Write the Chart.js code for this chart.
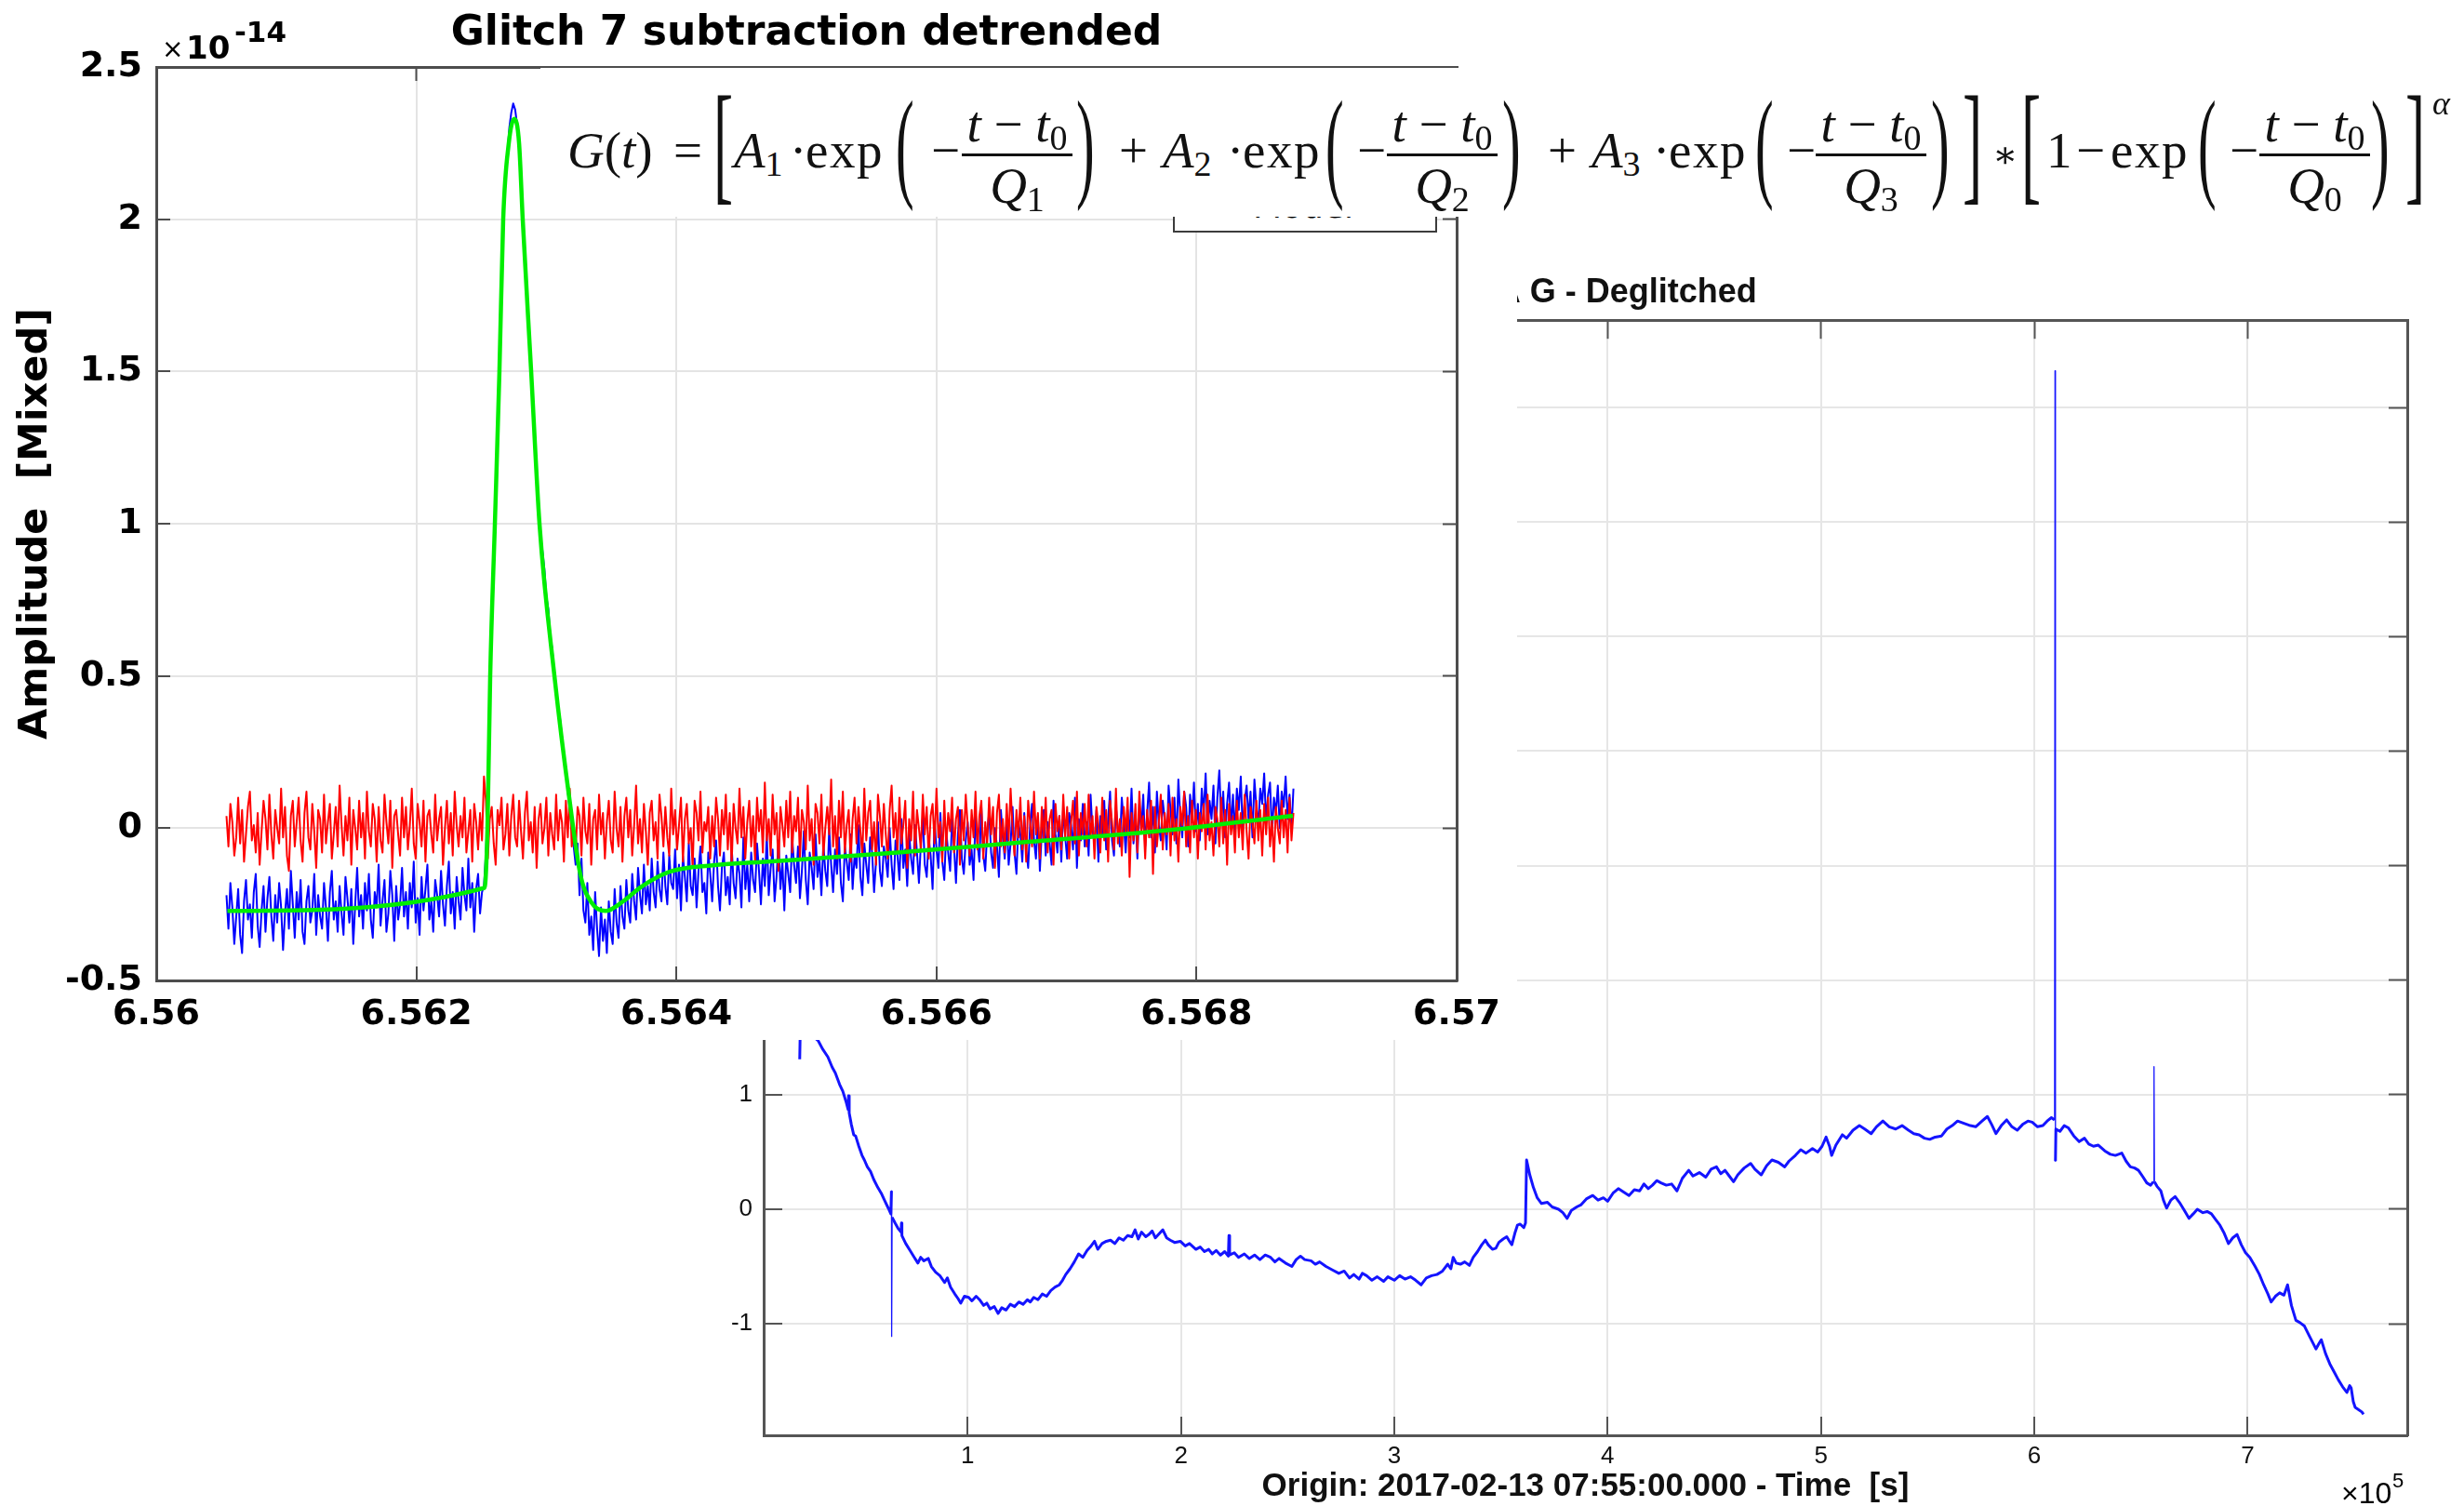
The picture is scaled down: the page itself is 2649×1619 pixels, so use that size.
<!DOCTYPE html>
<html lang="en">
<head>
<meta charset="utf-8">
<title>Glitch 7 subtraction detrended</title>
<script src="https://cdn.jsdelivr.net/npm/chart.js@4.4.1/dist/chart.umd.min.js"></script>
<style>
html, body { margin: 0; padding: 0; background: #fff; }
body { position: relative; width: 2649px; height: 1619px; overflow: hidden; }
canvas { display: block; }
#back { position: absolute; left: 760px; top: 250px; }
#frontBox { position: absolute; left: 0; top: 0; width: 1631px; height: 1118px; background: #fff; z-index: 2; }
#legend { position: absolute; left: 1261px; top: 100px; width: 284px; height: 150px; box-sizing: border-box; border: 2px solid #3c3c3c; background: #fff; z-index: 3; }
#legend span { position: absolute; left: 84px; top: 102px; font: 36px/1 "DejaVu Sans", sans-serif; color: #000; }
#eq { position: absolute; left: 581px; top: 73px; width: 2068px; height: 160px; background: #fff; z-index: 4; font-family: "Liberation Serif", serif; color: #111; }
#eq .a { position: absolute; line-height: 1; white-space: nowrap; }
#eq .m { font-size: 55px; top: 61px; }
#eq .x { letter-spacing: 1.5px; }
#eq .fr { top: 0; height: 160px; }
#eq .nu { left: 0; width: 100%; text-align: center; font-size: 55px; top: 33px; }
#eq .de { left: 0; width: 100%; text-align: center; font-size: 55px; top: 99px; }
#eq .bar { left: 0; width: 100%; top: 92px; height: 3px; background: #111; }
#eq .pa { font-size: 131px; top: 16px; transform: scaleX(0.45); transform-origin: 0 0; }
#eq .br { font-size: 141px; top: 10px; transform: scaleX(0.45); transform-origin: 0 0; }
#eq .ast { font-family: "DejaVu Serif", serif; font-size: 40px; top: 73px; }
#eq i { font-style: italic; }
#eq .sb { font-size: 38px; position: relative; top: 9px; }
#eq .sup { font-size: 36px; top: 20px; font-style: italic; }
.mag { position: absolute; line-height: 1; white-space: nowrap; color: #000; z-index: 3; }
</style>
</head>
<body>
<canvas id="back" width="1889" height="1369"></canvas>
<div id="frontBox"><canvas id="front" width="1631" height="1118"></canvas></div>

<div class="mag" style="left:174px;top:36px;font:28px 'DejaVu Sans',sans-serif;">×</div>
<div class="mag" style="left:200px;top:31px;font:bold 34px 'DejaVu Sans',sans-serif;">10</div>
<div class="mag" style="left:252px;top:16px;font:bold 31px 'DejaVu Sans',sans-serif;">-14</div>

<div class="mag" style="left:2517px;top:1587px;font:32px 'Liberation Sans',sans-serif;">×10</div>
<div class="mag" style="left:2572px;top:1579px;font:22px 'Liberation Sans',sans-serif;">5</div>

<div id="legend"><span>Model</span></div>

<div id="eq">
  <span class="a m" style="left:29px"><i>G</i>(<i>t</i>)</span>
  <span class="a m" style="left:143px">=</span>
  <span class="a br" style="left:186px">[</span>
  <span class="a m" style="left:208px"><i>A</i><span class="sb">1</span></span>
  <span class="a m" style="left:268px">·</span>
  <span class="a m x" style="left:285px">exp</span>
  <span class="a pa" style="left:382px">(</span>
  <span class="a m" style="left:420px">−</span>
  <div class="a fr" style="left:453px;width:119px">
    <div class="a nu"><i>t</i> − <i>t</i><span class="sb">0</span></div>
    <div class="a bar"></div>
    <div class="a de"><i>Q</i><span class="sb">1</span></div>
  </div>
  <span class="a pa" style="left:576px">)</span>

  <span class="a m" style="left:622px">+</span>
  <span class="a m" style="left:669px"><i>A</i><span class="sb">2</span></span>
  <span class="a m" style="left:738px">·</span>
  <span class="a m x" style="left:755px">exp</span>
  <span class="a pa" style="left:844px">(</span>
  <span class="a m" style="left:878px">−</span>
  <div class="a fr" style="left:910px;width:119px">
    <div class="a nu"><i>t</i> − <i>t</i><span class="sb">0</span></div>
    <div class="a bar"></div>
    <div class="a de"><i>Q</i><span class="sb">2</span></div>
  </div>
  <span class="a pa" style="left:1034px">)</span>

  <span class="a m" style="left:1083px">+</span>
  <span class="a m" style="left:1130px"><i>A</i><span class="sb">3</span></span>
  <span class="a m" style="left:1196px">·</span>
  <span class="a m x" style="left:1213px">exp</span>
  <span class="a pa" style="left:1306px">(</span>
  <span class="a m" style="left:1340px">−</span>
  <div class="a fr" style="left:1371px;width:119px">
    <div class="a nu"><i>t</i> − <i>t</i><span class="sb">0</span></div>
    <div class="a bar"></div>
    <div class="a de"><i>Q</i><span class="sb">3</span></div>
  </div>
  <span class="a pa" style="left:1495px">)</span>
  <span class="a br" style="left:1529px">]</span>
  <span class="a ast" style="left:1561px">∗</span>

  <span class="a br" style="left:1592px">[</span>
  <span class="a m" style="left:1619px">1</span>
  <span class="a m" style="left:1651px">−</span>
  <span class="a m x" style="left:1688px">exp</span>
  <span class="a pa" style="left:1782px">(</span>
  <span class="a m" style="left:1816px">−</span>
  <div class="a fr" style="left:1848px;width:119px">
    <div class="a nu"><i>t</i> − <i>t</i><span class="sb">0</span></div>
    <div class="a bar"></div>
    <div class="a de"><i>Q</i><span class="sb">0</span></div>
  </div>
  <span class="a pa" style="left:1968px">)</span>
  <span class="a br" style="left:2005px">]</span>
  <span class="a sup" style="left:2034px">α</span>
</div>

<script>
// front plot: glitch 7 (x in 1e5 s, y in 1e-14), evenly sampled
var frontT0 = 6.56054;
var frontDt = 0.000015;
var frontXTicks = [6.56, 6.562, 6.564, 6.566, 6.568, 6.57];
var frontYTicks = [-0.5, 0, 0.5, 1, 1.5, 2, 2.5];

// blue: measured data
var glitchData = [
    -0.22, -0.33, -0.18, -0.26, -0.38, -0.29, -0.20, -0.35, -0.41, -0.24,
    -0.17, -0.30, -0.25, -0.36, -0.21, -0.15, -0.32, -0.39, -0.27, -0.19,
    -0.34, -0.23, -0.16, -0.29, -0.37, -0.22, -0.31, -0.18, -0.26, -0.40,
    -0.28, -0.20, -0.33, -0.14, -0.25, -0.36, -0.21, -0.30, -0.17, -0.34,
    -0.38, -0.24, -0.19, -0.31, -0.27, -0.15, -0.35, -0.22, -0.29, -0.33,
    -0.18, -0.26, -0.37, -0.21, -0.14, -0.30, -0.24, -0.34, -0.19, -0.28,
    -0.35, -0.16, -0.23, -0.31, -0.20, -0.38, -0.25, -0.13, -0.29, -0.22,
    -0.33, -0.18, -0.27, -0.15, -0.30, -0.36, -0.21, -0.26, -0.12, -0.32,
    -0.24, -0.17, -0.34, -0.28, -0.14, -0.22, -0.37, -0.19, -0.30, -0.25,
    -0.13, -0.29, -0.21, -0.33, -0.18, -0.26, -0.11, -0.31, -0.23, -0.35,
    -0.16, -0.27, -0.20, -0.12, -0.30, -0.24, -0.34, -0.17, -0.22, -0.29,
    -0.14, -0.25, -0.32, -0.19, -0.11, -0.28, -0.21, -0.33, -0.16, -0.24,
    -0.30, -0.13, -0.22, -0.27, -0.10, -0.26, -0.18, -0.34, -0.20, -0.15,
    -0.28, -0.21, -0.19,
    -0.08, 0.08, 0.44, 0.68, 0.88, 1.10, 1.31, 1.53, 1.80, 2.03,
    2.12, 2.21, 2.30, 2.35, 2.38, 2.36, 2.31, 2.27, 2.14, 1.99,
    1.88, 1.76, 1.62, 1.53, 1.42, 1.30, 1.16, 1.06, 0.96, 0.91,
    0.85, 0.76, 0.72, 0.63, 0.59, 0.50, 0.46, 0.39, 0.36, 0.30,
    0.22, 0.20, 0.12, 0.06, 0.00, -0.06, -0.12, -0.05, -0.22, -0.10,
    -0.27, -0.31, -0.18, -0.35, -0.29, -0.40, -0.21, -0.33, -0.42, -0.26,
    -0.37, -0.30, -0.41, -0.24, -0.34, -0.38, -0.20, -0.31, -0.36, -0.19,
    -0.29, -0.33, -0.17, -0.27, -0.31, -0.15, -0.24, -0.30, -0.13, -0.22,
    -0.28, -0.12, -0.25, -0.19, -0.27, -0.10, -0.21, -0.26, -0.11, -0.20,
    -0.24, -0.08, -0.19, -0.25, -0.09, -0.18,
    -0.20, -0.07, -0.23, -0.12, -0.27, -0.09, -0.16, -0.24, -0.05, -0.19,
    -0.22, -0.10, -0.26, -0.14, -0.06, -0.21, -0.18, -0.28, -0.08, -0.15,
    -0.24, -0.11, -0.04, -0.19, -0.27, -0.13, -0.08, -0.22, -0.16, -0.25,
    -0.06, -0.18, -0.23, -0.10, -0.15, -0.26, -0.03, -0.20, -0.12, -0.24,
    -0.08, -0.17, -0.21, -0.05, -0.14, -0.25, -0.10, -0.19, -0.02, -0.22,
    -0.13, -0.07, -0.24, -0.16, -0.04, -0.20, -0.11, -0.27, -0.09, -0.15,
    -0.21, -0.03, -0.12, -0.18, -0.06, -0.23, -0.14, -0.01, -0.17, -0.25,
    -0.08, -0.13, -0.20, -0.02, -0.16, -0.10, -0.22, -0.05, -0.14, -0.19,
    0.00, -0.12, -0.21, -0.07, -0.15, -0.03, -0.18, -0.24, -0.06, -0.11,
    -0.17, -0.02, -0.20, -0.09, -0.13, 0.01, -0.16, -0.22, -0.05, -0.12,
    -0.18, -0.03, -0.08, -0.21, -0.11, 0.02, -0.14, -0.19, -0.06, -0.10,
    -0.16, 0.00, -0.12, -0.20, -0.04, -0.09, -0.17, 0.03, -0.13, -0.07,
    -0.19, -0.02, -0.10, -0.15, 0.01, -0.08, -0.18, -0.05, 0.04, -0.12,
    -0.16, -0.03, -0.09, -0.20, 0.02, -0.07, -0.13, 0.05, -0.11, -0.17,
    -0.01, -0.08, -0.14, 0.03, -0.06, -0.18, -0.02, 0.06, -0.10, -0.15,
    -0.04, 0.02, -0.12, -0.07, -0.17, 0.04, -0.05, -0.11, 0.07, -0.09,
    -0.14, -0.01, 0.05, -0.08, -0.13, 0.00, -0.06, -0.16, 0.06, -0.03,
    -0.10, 0.03, -0.12, -0.05, 0.07, -0.08, -0.15, 0.02, -0.02, -0.11,
    0.05, -0.07, -0.13, 0.01, 0.08, -0.04, -0.10, 0.04, -0.14, -0.01,
    0.06, -0.09, 0.02, -0.05, -0.12, 0.09, -0.02, -0.08, 0.04, -0.11,
    0.07, -0.03, -0.10, 0.05, 0.01, -0.07, 0.10, -0.13, 0.03, -0.04,
    0.08, -0.06, 0.02, -0.09, 0.11, -0.01, -0.05, 0.06, -0.11, 0.04,
    -0.02, 0.09, -0.07, 0.03, 0.12, -0.04, -0.09, 0.07, 0.00, -0.06,
    0.10, 0.02, -0.08, 0.06, -0.03, 0.13, -0.05, 0.04, -0.10, 0.08,
    -0.01, 0.11, -0.06, 0.05, 0.15, -0.03, 0.07, -0.08, 0.12, 0.01,
    -0.04, 0.09, 0.03, -0.07, 0.14, 0.06, -0.02, 0.10, -0.05, 0.16,
    0.04, -0.03, 0.12, 0.07, -0.06, 0.11, 0.02, 0.15, -0.01, 0.08,
    -0.04, 0.13, 0.05, 0.18, -0.02, 0.09, 0.03, 0.14, -0.05, 0.10,
    0.19, 0.02, 0.12, -0.03, 0.08, 0.15, 0.00, 0.11, -0.02, 0.13,
    0.06, 0.17, -0.01, 0.09, 0.14, 0.03, 0.12, -0.03, 0.16, 0.07,
    0.01, 0.13, 0.08, 0.18, 0.02, 0.11, 0.15, -0.02, 0.10, 0.05,
    0.14, 0.00, 0.12, 0.07, 0.17, 0.03, 0.11, -0.01, 0.13
];

// red: residual after subtraction
var residual = [
    0.04, -0.06, 0.08, 0.02, -0.09, -0.03, 0.10, -0.05, 0.06, -0.11,
    -0.02, 0.07, 0.12, -0.04, 0.01, -0.08, 0.05, -0.12, -0.01, 0.09,
    0.03, -0.07, 0.11, -0.02, -0.10, 0.06, 0.00, -0.05, 0.13, -0.03,
    0.07, -0.09, -0.14, 0.04, 0.09, -0.06, 0.02, 0.10, -0.04, -0.11,
    0.05, 0.12, -0.03, -0.07, 0.08, -0.01, -0.13, 0.06, 0.03, -0.08,
    0.11, -0.05, 0.02, 0.08, -0.10, -0.02, 0.07, -0.06, 0.14, 0.01,
    -0.09, 0.04, -0.04, 0.10, -0.12, 0.06, 0.00, -0.07, 0.09, -0.03,
    0.05, -0.10, 0.12, -0.01, -0.06, 0.08, 0.03, -0.11, 0.07, -0.04,
    -0.08, 0.11, 0.02, -0.05, 0.09, -0.13, 0.04, 0.06, -0.02, -0.09,
    0.10, -0.03, 0.07, -0.07, 0.01, 0.13, -0.05, -0.10, 0.08, 0.02,
    -0.06, 0.09, -0.11, 0.04, 0.06, -0.02, -0.08, 0.11, -0.04, 0.03,
    0.07, -0.12, 0.00, 0.09, -0.05, 0.05, -0.09, 0.12, 0.01, -0.06,
    0.04, -0.03, 0.10, -0.08, -0.01, 0.06, -0.11, 0.08, 0.02, -0.07,
    0.05, -0.04, 0.17, 0.09, -0.10, 0.03, 0.07, -0.05, -0.12, 0.06,
    0.01, 0.10, -0.07, -0.02, 0.08, -0.09, 0.04, 0.11, -0.03, -0.06,
    0.09, -0.01, -0.10, 0.05, 0.12, -0.04, 0.02, -0.08, 0.07, -0.13,
    0.03, 0.08, -0.05, 0.00, 0.10, -0.09, 0.05, -0.02, -0.07, 0.11,
    -0.04, 0.06, 0.02, -0.11, 0.09, -0.03, 0.13, -0.06, 0.01, -0.08,
    0.07, 0.04, -0.09, 0.10, -0.01, -0.05, 0.08, -0.12, 0.03, 0.06,
    -0.07, 0.11, -0.02, 0.05, -0.10, 0.02, 0.09, -0.04, -0.08, 0.12,
    0.00, -0.06, 0.07, -0.11, 0.04, 0.10, -0.03, 0.06, -0.09, 0.01,
    0.14, -0.05, 0.03, -0.08, 0.08, -0.01, -0.12, 0.05, 0.09, -0.04,
    0.02, -0.10, 0.11, 0.04, -0.06, 0.07, -0.03, -0.09, 0.13, -0.02,
    0.06, -0.07, 0.01, 0.10, -0.11, 0.03, 0.08, -0.05, 0.00, -0.13,
    0.09, 0.05, -0.04, 0.12, -0.08, 0.02, -0.01, 0.07, -0.10, 0.04,
    -0.06, 0.10, 0.03, -0.09, 0.06, -0.02, 0.11, -0.07, 0.05, -0.12,
    0.08, 0.00, -0.05, 0.13, -0.03, 0.07, -0.10, 0.02, 0.09, -0.06,
    0.04, -0.11, 0.10, -0.01, 0.06, -0.08, 0.15, -0.04, 0.03, -0.09,
    0.11, -0.02, 0.05, -0.14, 0.07, 0.01, -0.06, 0.09, -0.03, 0.12,
    -0.08, 0.04, -0.01, 0.10, -0.10, 0.06, 0.02, -0.07, 0.14, -0.04,
    0.03, -0.12, 0.08, 0.05, -0.05, 0.11, -0.09, 0.00, 0.07, -0.02,
    0.16, -0.06, 0.04, -0.10, 0.09, -0.03, 0.12, -0.08, 0.01, 0.06,
    -0.11, 0.03, 0.10, -0.05, 0.07, -0.01, -0.09, 0.13, -0.04, 0.05,
    0.09, -0.07, 0.02, -0.12, 0.11, 0.04, -0.06, 0.08, -0.02, -0.10,
    0.06, 0.14, -0.03, 0.05, -0.08, 0.10, -0.05, 0.01, 0.09, -0.13,
    0.03, -0.04, 0.12, -0.09, 0.06, 0.00, -0.07, 0.11, -0.02, 0.07,
    -0.10, 0.04, 0.08, -0.05, 0.13, -0.03, 0.02, -0.11, 0.09, -0.06,
    0.05, -0.01, 0.10, -0.08, 0.03, 0.07, -0.12, 0.06, -0.04, 0.11,
    0.01, -0.09, 0.06, -0.03, 0.12, -0.07, 0.04, 0.09, -0.10, 0.02,
    -0.05, 0.10, -0.02, 0.07, -0.13, 0.05, 0.11, -0.06, 0.03, -0.08,
    0.08, -0.04, 0.13, 0.00, -0.09, 0.06, -0.03, 0.10, -0.07, 0.04,
    -0.11, 0.09, 0.02, -0.06, 0.12, -0.02, 0.05, -0.10, 0.07, -0.04,
    0.10, -0.08, 0.03, 0.06, -0.12, 0.08, -0.01, 0.04, -0.07, 0.11,
    -0.03, 0.07, -0.10, 0.02, 0.09, -0.05, 0.12, -0.09, 0.05, -0.02,
    0.08, -0.06, 0.11, -0.03, 0.04, -0.10, 0.07, 0.01, -0.08, 0.10,
    -0.04, 0.06, -0.11, 0.09, 0.02, -0.07, 0.13, -0.05, 0.03, -0.09,
    0.07, -0.02, 0.10, -0.16, 0.05, -0.04, 0.08, -0.08, 0.12, -0.01,
    0.04, -0.10, 0.06, -0.03, 0.09, -0.15, 0.07, -0.06, 0.02, 0.11,
    -0.07, 0.05, -0.02, 0.08, -0.09, 0.10, -0.04, 0.03, -0.11, 0.07,
    0.01, 0.12, -0.06, 0.04, -0.08, 0.09, -0.03, 0.06, -0.10, 0.05,
    -0.01, 0.08, -0.07, 0.11, -0.04, 0.02, -0.09, 0.07, 0.03, -0.06,
    0.10, -0.05, 0.06, -0.12, 0.08, -0.02, 0.04, -0.08, 0.09, -0.03,
    0.05, -0.07, 0.11, -0.01, -0.10, 0.07, 0.02, -0.05, 0.09, -0.04,
    0.06, -0.09, 0.08, -0.02, 0.10, -0.06, 0.03, -0.11, 0.07, 0.00,
    -0.05, 0.09, -0.03, 0.06, -0.08, 0.10, -0.04, 0.05
];

// green: glitch model fit
var fitX = [6.560547, 6.562524, 6.562547, 6.562568, 6.562604, 6.562639, 6.562668, 6.562711,
    6.562754, 6.562790, 6.562818, 6.562883, 6.562947, 6.563062, 6.563181, 6.563262,
    6.563348, 6.563455, 6.563591, 6.563727, 6.563948, 6.564278, 6.564735, 6.5657,
    6.5667, 6.5677, 6.568741];
var fitY = [-0.272, -0.196, 0.0, 0.5, 1.0, 1.5, 2.0, 2.25,
    2.33, 2.25, 2.0, 1.5, 1.0, 0.5, 0.083, -0.153,
    -0.245, -0.272, -0.240, -0.193, -0.143, -0.122, -0.109, -0.08,
    -0.045, -0.01, 0.041];

// back plot: DELTA G deglitched (x in 1e5 s)
var backXTicks = [1, 2, 3, 4, 5, 6, 7];
var backYTicks = [-1, 0, 1, 2, 3, 4, 5, 6, 7];
var backX = [
    0.213, 0.216, 0.24, 0.27, 0.30, 0.32, 0.345, 0.365, 0.38, 0.40,
    0.415, 0.43, 0.44, 0.442, 0.445, 0.455, 0.466, 0.475, 0.49, 0.505,
    0.516, 0.53, 0.545, 0.56, 0.579, 0.595, 0.61, 0.628, 0.640, 0.643,
    0.644, 0.646, 0.66, 0.675, 0.688, 0.69, 0.692, 0.71, 0.73, 0.75,
    0.767, 0.78, 0.795, 0.816, 0.83, 0.85, 0.87, 0.892, 0.905, 0.92,
    0.94, 0.955, 0.968, 0.985, 1.005, 1.02, 1.04, 1.056, 1.075, 1.09,
    1.105, 1.125, 1.143, 1.16, 1.18, 1.20, 1.22, 1.24, 1.26, 1.28,
    1.294, 1.31, 1.33, 1.35, 1.37, 1.39, 1.41, 1.43, 1.445, 1.46,
    1.48, 1.50, 1.52, 1.54, 1.56, 1.575, 1.595, 1.61, 1.63, 1.65,
    1.67, 1.69, 1.71, 1.73, 1.75, 1.77, 1.785, 1.80, 1.815, 1.835,
    1.85, 1.865, 1.88, 1.90, 1.915, 1.933, 1.95, 1.97, 1.997, 2.02,
    2.04, 2.07, 2.09, 2.11, 2.13, 2.147, 2.165, 2.185, 2.205, 2.222,
    2.225, 2.228, 2.25, 2.27, 2.297, 2.32, 2.345, 2.37, 2.395, 2.42,
    2.44, 2.46, 2.49, 2.52, 2.54, 2.56, 2.58, 2.61, 2.63, 2.65,
    2.68, 2.71, 2.74, 2.765, 2.79, 2.81, 2.835, 2.85, 2.87, 2.895,
    2.92, 2.95, 2.97, 3.00, 3.025, 3.05, 3.076, 3.10, 3.126, 3.15,
    3.175, 3.20, 3.226, 3.25, 3.265, 3.276, 3.29, 3.31, 3.33, 3.352,
    3.37, 3.39, 3.41, 3.427, 3.44, 3.46, 3.476, 3.49, 3.51, 3.527,
    3.54, 3.551, 3.565, 3.577, 3.59, 3.607, 3.615, 3.62, 3.635, 3.652,
    3.67, 3.69, 3.718, 3.74, 3.77, 3.79, 3.81, 3.83, 3.855, 3.876,
    3.90, 3.93, 3.955, 3.98, 4.00, 4.025, 4.05, 4.075, 4.10, 4.125,
    4.15, 4.17, 4.19, 4.21, 4.23, 4.25, 4.275, 4.30, 4.325, 4.35,
    4.38, 4.40, 4.43, 4.46, 4.485, 4.51, 4.53, 4.55, 4.57, 4.59,
    4.61, 4.64, 4.67, 4.69, 4.72, 4.745, 4.77, 4.80, 4.83, 4.85,
    4.88, 4.905, 4.93, 4.96, 4.985, 5.005, 5.024, 5.04, 5.05, 5.07,
    5.10, 5.12, 5.15, 5.18, 5.205, 5.235, 5.26, 5.29, 5.32, 5.35,
    5.38, 5.41, 5.435, 5.46, 5.485, 5.51, 5.535, 5.565, 5.59, 5.615,
    5.64, 5.67, 5.70, 5.725, 5.755, 5.78, 5.80, 5.82, 5.845, 5.87,
    5.895, 5.92, 5.945, 5.97, 5.99, 6.015, 6.04, 6.06, 6.08, 6.095,
    6.097, 6.099, 6.101, 6.12, 6.14, 6.16, 6.185, 6.21, 6.235, 6.255,
    6.277, 6.30, 6.33, 6.356, 6.38, 6.41, 6.43, 6.45, 6.47, 6.488,
    6.51, 6.527, 6.545, 6.558, 6.561, 6.563, 6.575, 6.593, 6.605, 6.62,
    6.64, 6.66, 6.68, 6.70, 6.725, 6.745, 6.764, 6.79, 6.81, 6.83,
    6.85, 6.87, 6.89, 6.91, 6.93, 6.95, 6.97, 6.99, 7.01, 7.035,
    7.055, 7.075, 7.095, 7.11, 7.13, 7.15, 7.17, 7.187, 7.205, 7.226,
    7.245, 7.266, 7.29, 7.32, 7.335, 7.345, 7.365, 7.385, 7.405, 7.425,
    7.445, 7.465, 7.478, 7.485, 7.495, 7.504, 7.52, 7.535, 7.543
];
var backY = [
    1.31, 1.62, 1.58, 1.52, 1.47, 1.40, 1.33, 1.24, 1.19, 1.09,
    1.03, 0.94, 0.87, 0.99, 0.84, 0.74, 0.65, 0.64, 0.55, 0.47,
    0.43, 0.37, 0.33, 0.26, 0.19, 0.14, 0.08, 0.01, -0.04, 0.16,
    -1.11, -0.07, -0.12, -0.17, -0.20, -0.12, -0.23, -0.30, -0.36, -0.42,
    -0.47, -0.42, -0.45, -0.43, -0.50, -0.55, -0.58, -0.64, -0.60, -0.68,
    -0.74, -0.78, -0.82, -0.76, -0.77, -0.80, -0.76, -0.79, -0.84, -0.82,
    -0.87, -0.85, -0.91, -0.86, -0.88, -0.83, -0.85, -0.81, -0.83, -0.79,
    -0.81, -0.77, -0.79, -0.74, -0.76, -0.71, -0.68, -0.66, -0.62, -0.57,
    -0.52, -0.46, -0.39, -0.42, -0.36, -0.33, -0.28, -0.35, -0.30, -0.28,
    -0.27, -0.30, -0.25, -0.27, -0.23, -0.24, -0.18, -0.26, -0.20, -0.24,
    -0.22, -0.19, -0.25, -0.21, -0.18, -0.25, -0.27, -0.29, -0.28, -0.32,
    -0.30, -0.35, -0.33, -0.37, -0.35, -0.39, -0.36, -0.40, -0.37, -0.41,
    -0.23, -0.40, -0.38, -0.42, -0.39, -0.43, -0.40, -0.44, -0.40, -0.42,
    -0.46, -0.43, -0.47, -0.50, -0.44, -0.41, -0.44, -0.45, -0.48, -0.46,
    -0.50, -0.53, -0.56, -0.54, -0.60, -0.57, -0.61, -0.56, -0.58, -0.62,
    -0.59, -0.63, -0.59, -0.62, -0.58, -0.61, -0.59, -0.62, -0.66, -0.60,
    -0.58, -0.57, -0.54, -0.48, -0.52, -0.42, -0.47, -0.48, -0.46, -0.49,
    -0.42, -0.37, -0.31, -0.27, -0.31, -0.35, -0.34, -0.29, -0.26, -0.24,
    -0.28, -0.31, -0.21, -0.14, -0.13, -0.16, -0.12, 0.43, 0.30, 0.19,
    0.10, 0.05, 0.06, 0.02, 0.00, -0.03, -0.08, -0.01, 0.02, 0.04,
    0.09, 0.12, 0.08, 0.10, 0.07, 0.14, 0.18, 0.15, 0.12, 0.17,
    0.16, 0.22, 0.18, 0.21, 0.25, 0.23, 0.21, 0.22, 0.16, 0.27,
    0.34, 0.29, 0.32, 0.28, 0.35, 0.37, 0.31, 0.34, 0.29, 0.24,
    0.30, 0.36, 0.40, 0.35, 0.30, 0.38, 0.43, 0.41, 0.37, 0.42,
    0.47, 0.52, 0.49, 0.53, 0.50, 0.55, 0.63, 0.55, 0.47, 0.56,
    0.65, 0.62, 0.69, 0.73, 0.70, 0.66, 0.72, 0.77, 0.72, 0.70,
    0.73, 0.69, 0.66, 0.65, 0.62, 0.61, 0.63, 0.64, 0.70, 0.73,
    0.77, 0.75, 0.73, 0.72, 0.77, 0.81, 0.74, 0.66, 0.73, 0.78,
    0.72, 0.69, 0.74, 0.77, 0.76, 0.72, 0.73, 0.77, 0.80, 0.78,
    7.32, 0.42, 0.70, 0.68, 0.73, 0.71, 0.64, 0.59, 0.62, 0.57,
    0.55, 0.56, 0.51, 0.48, 0.47, 0.49, 0.42, 0.37, 0.36, 0.34,
    0.28, 0.23, 0.21, 0.24, 1.245, 0.24, 0.20, 0.16, 0.08, 0.01,
    0.08, 0.11, 0.06, 0.00, -0.08, -0.04, 0.00, -0.03, -0.02, -0.04,
    -0.09, -0.14, -0.21, -0.30, -0.25, -0.22, -0.31, -0.38, -0.42, -0.50,
    -0.57, -0.66, -0.74, -0.81, -0.76, -0.73, -0.75, -0.66, -0.84, -0.97,
    -0.99, -1.02, -1.11, -1.22, -1.17, -1.14, -1.26, -1.35, -1.42, -1.49,
    -1.55, -1.60, -1.54, -1.56, -1.68, -1.73, -1.75, -1.77, -1.79
];

function sampled(values) {
    return values.map(function(v, i) {
        return { x: frontT0 + i * frontDt, y: v };
    });
}

function paired(xs, ys) {
    return xs.map(function(x, i) {
        return { x: x, y: ys[i] };
    });
}

function fixTicks(values) {
    return function(scale) {
        scale.ticks = values.map(function(v) { return { value: v }; });
    };
}

function fixWidth(w) {
    return function(scale) { scale.width = w; };
}

function fixHeight(h) {
    return function(scale) { scale.height = h; };
}

// grafico da frente
var frontFont = { family: 'DejaVu Sans', weight: 'bold', size: 38 };
var frontAxisColor = '#4d4d4d';
var frontGrid = { color: '#e4e4e4', lineWidth: 2, tickColor: frontAxisColor, tickLength: -15, tickWidth: 2 };
var frontEdgeGrid = { drawOnChartArea: false, tickColor: frontAxisColor, tickLength: -15, tickWidth: 2 };
var frontBorder = { color: frontAxisColor, width: 3 };

var frontChart = new Chart(document.getElementById('front').getContext('2d'), {
    type: 'line',
    data: {
        datasets: [{
            label: 'Model',
            data: paired(fitX, fitY),
            borderColor: '#00ee00',
            borderWidth: 4.5,
            cubicInterpolationMode: 'monotone',
            xAxisID: 'x',
            yAxisID: 'y'
        }, {
            label: 'Residual',
            data: sampled(residual),
            borderColor: '#ff0000',
            borderWidth: 2,
            xAxisID: 'x',
            yAxisID: 'y'
        }, {
            label: 'Data',
            data: sampled(glitchData),
            borderColor: '#0000ff',
            borderWidth: 2,
            xAxisID: 'x',
            yAxisID: 'y'
        }]
    },
    options: {
        responsive: false,
        animation: false,
        devicePixelRatio: 1,
        layout: { padding: 0 },
        elements: {
            point: { radius: 0 },
            line: { tension: 0, borderJoinStyle: 'round', fill: false }
        },
        plugins: {
            legend: { display: false },
            tooltip: { enabled: false }
        },
        scales: {
            x: {
                type: 'linear',
                position: 'bottom',
                min: 6.56,
                max: 6.57,
                afterBuildTicks: fixTicks(frontXTicks),
                afterFit: fixHeight(64),
                grid: frontGrid,
                border: frontBorder,
                ticks: {
                    padding: 14,
                    color: '#000',
                    font: { family: 'DejaVu Sans', weight: 'bold', size: 38, lineHeight: 2 },
                    maxRotation: 0,
                    autoSkip: false,
                    callback: function(value) {
                        return String(+value.toFixed(3));
                    }
                }
            },
            x2: {
                type: 'linear',
                position: 'top',
                min: 6.56,
                max: 6.57,
                afterBuildTicks: fixTicks(frontXTicks),
                afterFit: fixHeight(72),
                grid: frontEdgeGrid,
                border: frontBorder,
                ticks: { display: false },
                title: {
                    display: true,
                    text: 'Glitch 7 subtraction detrended',
                    color: '#000',
                    font: { family: 'DejaVu Sans', weight: 'bold', size: 44 },
                    padding: { top: 10, bottom: 0 }
                }
            },
            y: {
                type: 'linear',
                position: 'left',
                min: -0.5,
                max: 2.5,
                afterBuildTicks: fixTicks(frontYTicks),
                afterFit: fixWidth(168),
                grid: frontGrid,
                border: frontBorder,
                ticks: {
                    padding: 30,
                    color: '#000',
                    font: frontFont,
                    callback: function(value) {
                        return String(value);
                    }
                },
                title: {
                    display: true,
                    text: 'Amplitude  [Mixed]',
                    color: '#000',
                    font: { family: 'DejaVu Sans', weight: 'bold', size: 43 },
                    padding: { top: 13, bottom: 0 }
                }
            },
            y2: {
                type: 'linear',
                position: 'right',
                min: -0.5,
                max: 2.5,
                afterBuildTicks: fixTicks(frontYTicks),
                afterFit: fixWidth(65),
                grid: frontEdgeGrid,
                border: frontBorder,
                ticks: { display: false }
            }
        }
    }
});

// grafico de fundo
var backFont = { family: 'Liberation Sans', size: 26 };
var backAxisColor = '#555555';
var backGrid = { color: '#e6e6e6', lineWidth: 2, tickColor: backAxisColor, tickLength: -20, tickWidth: 2 };
var backEdgeGrid = { drawOnChartArea: false, tickColor: backAxisColor, tickLength: -20, tickWidth: 2 };
var backBorder = { color: backAxisColor, width: 3 };

var backChart = new Chart(document.getElementById('back').getContext('2d'), {
    type: 'line',
    data: {
        datasets: [{
            label: 'DELTA G - Deglitched',
            data: paired(backX, backY),
            borderColor: '#1414ff',
            borderWidth: 3,
            segment: {
                borderWidth: function(ctx) {
                    return Math.abs(ctx.p1.parsed.y - ctx.p0.parsed.y) > 0.6 ? 1.3 : 3;
                }
            },
            xAxisID: 'x',
            yAxisID: 'y'
        }]
    },
    options: {
        responsive: false,
        animation: false,
        devicePixelRatio: 1,
        layout: { padding: 0 },
        elements: {
            point: { radius: 0 },
            line: { tension: 0, borderJoinStyle: 'round', fill: false }
        },
        plugins: {
            legend: { display: false },
            tooltip: { enabled: false },
            title: {
                display: true,
                text: 'DELTA G - Deglitched',
                color: '#111',
                font: { family: 'Liberation Sans', weight: 'bold', size: 36 },
                padding: { top: 43, bottom: 8 }
            }
        },
        scales: {
            x: {
                type: 'linear',
                position: 'bottom',
                min: 0.044,
                max: 7.748,
                afterBuildTicks: fixTicks(backXTicks),
                afterFit: fixHeight(76),
                grid: backGrid,
                border: backBorder,
                ticks: { padding: 27, color: '#111', font: backFont, maxRotation: 0, autoSkip: false },
                title: {
                    display: true,
                    text: 'Origin: 2017-02-13 07:55:00.000 - Time  [s]',
                    color: '#111',
                    font: { family: 'Liberation Sans', weight: 'bold', size: 35 },
                    padding: { top: 0, bottom: 0 }
                }
            },
            x2: {
                type: 'linear',
                position: 'top',
                min: 0.044,
                max: 7.748,
                afterBuildTicks: fixTicks(backXTicks),
                afterFit: fixHeight(0),
                grid: backEdgeGrid,
                border: backBorder,
                ticks: { display: false }
            },
            y: {
                type: 'linear',
                position: 'left',
                min: -1.974,
                max: 7.763,
                afterBuildTicks: fixTicks(backYTicks),
                afterFit: fixWidth(61),
                grid: backGrid,
                border: backBorder,
                ticks: { padding: 32, color: '#111', font: backFont }
            },
            y2: {
                type: 'linear',
                position: 'right',
                min: -1.974,
                max: 7.763,
                afterBuildTicks: fixTicks(backYTicks),
                afterFit: fixWidth(61),
                grid: backEdgeGrid,
                border: backBorder,
                ticks: { display: false }
            }
        }
    }
});
</script>
</body>
</html>
